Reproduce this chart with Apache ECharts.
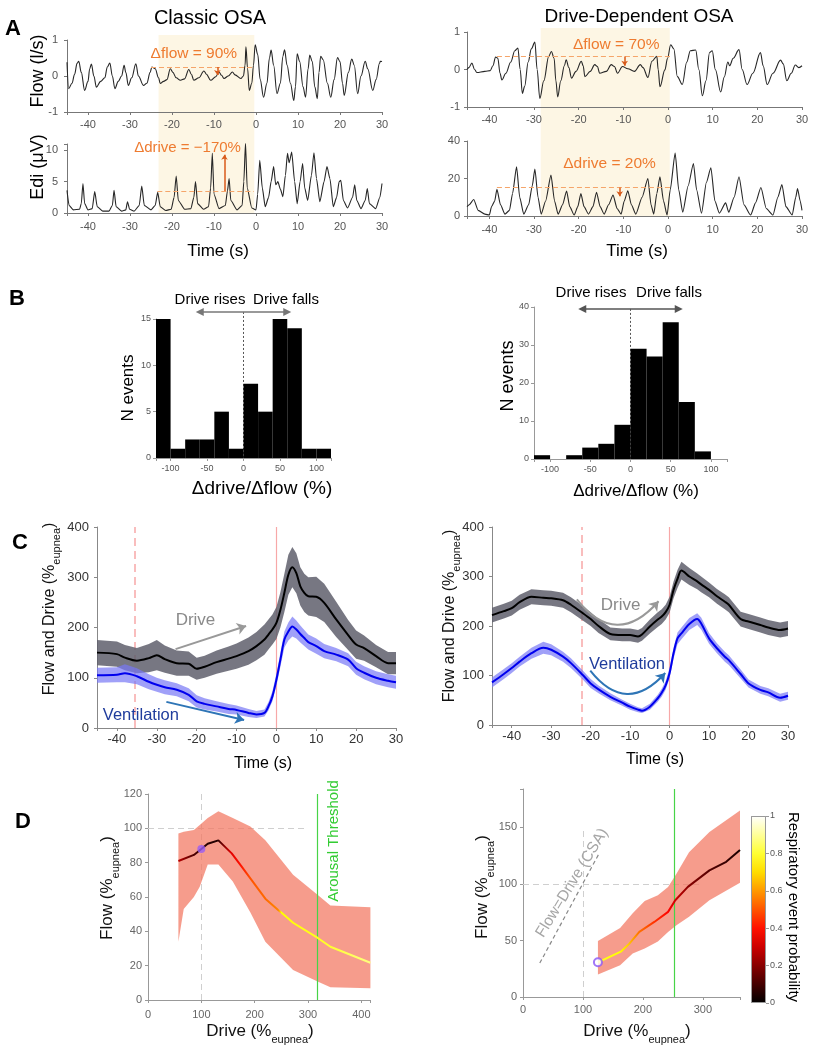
<!DOCTYPE html>
<html><head><meta charset="utf-8">
<script src="https://cdn.jsdelivr.net/npm/echarts@6/dist/echarts.min.js"></script>
<style>html,body{margin:0;padding:0;background:#fff}#c{width:817px;height:1050px}</style>
</head><body><div id="c"></div>
<script>
// ---------------- DATA ----------------
const flowClassic = [[-45,0.38],[-44.6,-0.35],[-43.8,-0.2],[-43.2,0.05],[-42.6,0.35],[-42.2,0.41],[-41.6,0.1],[-40.8,-0.4],[-40.0,-0.15],[-39.6,0.2],[-39.2,0.33],[-38.6,0.0],[-38.0,-0.31],[-37.0,-0.15],[-36.0,-0.05],[-35.4,0.25],[-34.8,0.36],[-34.2,0.0],[-33.6,-0.35],[-32.8,-0.15],[-32.0,0.0],[-31.4,0.3],[-31.0,0.1],[-30.4,-0.26],[-29.6,-0.05],[-28.6,0.34],[-28.0,0.0],[-26.8,-0.26],[-26.0,-0.2],[-25.2,0.1],[-24.8,0.25],[-24.0,0.2],[-23.2,-0.05],[-22.8,-0.21],[-22.0,-0.15],[-21.2,-0.1],[-20.4,0.2],[-19.8,0.1],[-19.0,-0.05],[-18.0,-0.12],[-17.0,-0.08],[-16.0,0.18],[-15.4,0.05],[-14.8,-0.12],[-13.6,-0.05],[-12.4,0.14],[-11.8,0.05],[-10.8,-0.12],[-9.6,-0.02],[-8.8,0.11],[-8.2,0.02],[-7.6,-0.07],[-6.6,0.0],[-5.6,0.11],[-5.0,0.03],[-3.6,-0.07],[-3.0,0.0],[-2.6,0.3],[-2.4,0.81],[-2.0,0.2],[-1.6,-0.4],[-1.0,-0.2],[-0.6,0.3],[-0.2,0.87],[0.4,0.6],[1.0,-0.1],[1.8,-0.59],[2.6,-0.2],[3.2,0.5],[3.6,0.72],[4.2,0.3],[5.0,-0.49],[5.8,-0.2],[6.4,0.55],[6.8,0.73],[7.4,0.3],[8.2,-0.2],[9.0,-0.68],[9.4,-0.3],[9.8,0.62],[10.4,0.4],[11.2,-0.3],[11.8,-0.59],[12.4,0.2],[12.8,0.58],[13.4,0.4],[14.0,-0.3],[14.6,-0.63],[15.0,0.1],[15.4,0.55],[16.0,0.45],[17.0,-0.2],[17.8,-0.59],[18.6,-0.1],[19.4,0.51],[20.0,0.4],[20.6,-0.2],[21.0,-0.54],[22.0,0.1],[22.8,0.47],[23.4,0.3],[24.2,-0.49],[25.0,0.0],[26.0,0.41],[26.6,0.2],[27.8,-0.4],[28.6,-0.1],[29.4,0.35],[29.6,0.41],[30,0.4]];
const ediClassic = [[-45,3.6],[-44.5,1.2],[-43.5,0.5],[-42,0.6],[-41.6,1.5],[-41.2,4.7],[-40.8,1.5],[-40,0.5],[-39,0.7],[-38.4,3.4],[-37.8,1],[-36.5,0.3],[-35,0.3],[-34.2,1.2],[-33.8,3.6],[-33.3,1],[-32,0.3],[-31,0.5],[-30.6,1.8],[-30.1,0.6],[-29,0.3],[-27.8,1.2],[-27.2,4.3],[-26.6,1.2],[-25,0.5],[-24,1.2],[-23.4,3.3],[-22.8,1],[-21.5,0.4],[-20.2,0.6],[-19.5,2.5],[-19,5.9],[-18.5,2],[-17,0.6],[-15.5,0.7],[-14.8,2.5],[-14.4,5.0],[-13.9,1.5],[-12.5,0.6],[-11.3,1.0],[-10.8,4],[-10.4,9.5],[-10,3],[-8.8,0.7],[-7.3,1.2],[-6.8,3.5],[-6.4,5.5],[-6,2],[-4.5,0.5],[-3.3,1.2],[-2.9,5],[-2.5,11.2],[-2.1,4],[-1,0.8],[0,0.5],[0.4,3],[0.9,8.4],[1.5,4],[2.2,1],[3.0,2.5],[3.6,5],[4.2,7.4],[4.7,4.5],[5.2,5],[5.8,3.8],[6.4,2.6],[7.0,6],[7.5,9.5],[7.9,8],[8.5,9.7],[9.2,5],[9.8,1.5],[10.5,5],[11.1,7.9],[11.6,4],[12.3,2],[13.2,6],[13.8,9.6],[14.4,5.5],[15.2,1.8],[16.2,5],[16.9,7.4],[17.6,5.5],[18.4,1.0],[19.2,2.5],[19.8,5],[20.2,5.2],[20.8,2],[21.8,0.8],[23,2.5],[23.5,4.5],[24,2],[25,0.7],[26,2],[26.5,3.9],[27,1.5],[28.5,0.7],[29.5,2.5],[30,4.7]];
const flowDD = [[-45,0.0],[-44.6,0.05],[-43.9,0.17],[-43.3,0.0],[-42.8,-0.08],[-41,-0.05],[-39.8,-0.03],[-39.2,0.1],[-38.6,0.33],[-38.1,0.3],[-37.6,-0.1],[-37.2,-0.28],[-36.3,-0.1],[-35.2,0.2],[-34.3,0.5],[-33.6,0.57],[-33.1,0.0],[-32.6,-0.64],[-32.1,-0.45],[-31.3,0.2],[-30.6,0.55],[-29.8,0.73],[-29.3,0.0],[-28.7,-0.77],[-27.8,-0.3],[-26.7,0.35],[-26.1,0.48],[-25.5,0.3],[-25.1,-0.3],[-24.7,-0.73],[-24.0,-0.3],[-23.2,0.1],[-22.8,0.26],[-22.2,0.05],[-21.6,-0.23],[-20.6,-0.05],[-19.4,0.22],[-19.0,0.1],[-18.6,-0.19],[-17.4,-0.05],[-16.4,0.13],[-15.8,0.08],[-15.3,-0.1],[-13.8,-0.05],[-12.7,0.13],[-12.0,0.08],[-11.3,-0.1],[-10.2,0.08],[-9.0,0.02],[-7.5,-0.05],[-6.2,0.13],[-5.6,0.05],[-4.5,-0.21],[-3.6,0.22],[-2.5,0.35],[-2.2,0.0],[-1.8,-0.46],[-0.7,-0.01],[-0.1,0.3],[0.6,0.66],[1.3,0.55],[2.1,-0.19],[3.2,-0.4],[4.2,0.2],[5.0,0.5],[6.2,0.52],[6.9,0.0],[7.7,-0.7],[8.5,-0.3],[9.3,0.45],[9.9,0.5],[10.6,0.0],[11.8,-0.6],[12.6,-0.2],[13.4,0.2],[13.8,0.1],[14.6,0.3],[15.9,0.53],[16.6,0.0],[17.7,-0.4],[19.0,-0.1],[20.7,0.45],[21.3,0.1],[22.2,-0.4],[23.5,-0.1],[25.2,0.25],[25.8,0.15],[26.6,-0.3],[27.6,-0.1],[28.5,0.12],[29.3,0.05],[30,0.1]];
const ediDD = [[-45,5],[-44.5,6],[-43.5,8.8],[-42.5,3],[-41,1],[-40,0.5],[-39.5,5],[-38.8,8],[-38.3,14.2],[-37.5,6],[-36.5,1],[-35.5,3],[-34.8,12],[-33.9,26.2],[-33.2,10],[-32.3,1],[-31.2,6],[-30.4,16],[-29.8,25],[-29.1,10],[-28.4,1],[-27.4,8],[-26.2,21.8],[-25.4,8],[-24.6,1],[-23.6,6],[-22.7,13.3],[-22,5],[-21,0.5],[-20.2,5],[-19.5,12],[-18.8,5],[-17.8,1],[-16.8,5],[-16,12.7],[-15.2,5],[-14.3,1],[-13.3,6],[-12.3,11.2],[-11.4,4],[-10.5,1],[-9.8,8],[-9,13.5],[-8.2,6],[-7.2,1],[-5.8,10],[-4.5,20],[-3.8,6],[-3.2,1],[-2.5,12],[-1.8,20.9],[-1.0,8],[-0.2,0.5],[0.5,14],[1.6,33.6],[2.4,14],[3.3,2],[4.5,16],[5.7,28],[6.4,14],[7.5,1.5],[8.6,18],[9.6,25.7],[10.5,8],[11.5,1.5],[12.9,7],[13.6,2],[14.8,10],[15.9,20.9],[17,6],[18.5,0.5],[19.6,7],[20.8,15.2],[22,4],[23.5,0.5],[24.6,10],[25.5,16.8],[26.4,5],[27.8,0.5],[28.6,10],[29,14.7],[29.6,8],[30,3]];

const histEdges = [-120,-100,-80,-60,-40,-20,0,20,40,60,80,100,120];
const histClassic = [15,1,2,2,5,1,8,5,15,14,1,1];
const histDD = [1,0,1,3,4,9,29,27,36,15,2,0];

const cTimeL  = [-45,-40,-38,-35,-32,-30,-28,-25,-22,-20,-18,-15,-12,-10,-7,-5,-3,-2,-1,0,1,2,3,4,5,6,7,8,10,12,15,18,20,22,25,28,30];
const cDriveL = [150,147,140,134,139,145,137,129,128,118,122,131,138,143,153,163,176,186,196,209,235,269,305,320,308,282,269,262,261,249,216,185,166,159,143,129,129];
const cDriveSeL = [25,25,25,25,28,30,27,25,24,22,22,23,24,25,27,28,30,30,30,32,35,38,40,40,40,38,38,38,40,38,35,30,28,25,22,22,22];
const cVentL  = [105,106,109,103,92,86,81,76,66,53,48,43,38,36,30,27,30,43,63,96,136,176,192,202,196,187,179,171,163,153,146,136,119,110,100,94,91];
const cVentSeL = [15,15,18,16,15,14,14,13,13,12,11,10,10,9,8,7,7,8,10,12,14,16,18,20,18,17,16,15,15,14,13,13,13,13,13,13,13];

const cTimeR  = [-45,-42,-40,-38,-35,-32,-30,-27,-25,-22,-20,-18,-15,-12,-10,-8,-7,-5,-3,-2,-1,0,1,2,3,5,7,8,10,12,14,15,18,20,23,25,28,30];
const cDriveR = [222,230,236,248,259,257,256,252,243,226,214,200,184,182,182,179,183,199,213,219,228,243,273,295,312,300,290,284,273,260,249,243,214,209,202,197,192,195];
const cDriveSeR = [15,15,15,15,15,15,15,15,15,15,14,14,13,13,13,13,13,14,15,15,15,16,17,18,18,17,16,16,15,15,15,15,15,15,15,15,15,15];
const cVentR  = [86,103,115,128,145,156,152,138,125,101,84,72,57,45,37,31,29,37,54,65,80,105,145,175,185,204,214,205,175,155,138,131,103,84,71,66,55,59];
const cVentSeR = [10,10,10,10,11,12,11,10,10,9,9,8,7,6,6,5,5,6,7,8,9,10,11,12,12,12,12,12,11,10,10,10,9,8,8,8,8,8];

const dDriveL = [57,86,100,112,132,157,175,194,220,244,250,272,319,342,417];
const dFlowL  = [81,84.5,88,91,93,85.4,78,70,59,52.4,51,45,36,31,21.7];
const dProbL  = [0.3,0.13,0.08,0.06,0.05,0.33,0.4,0.5,0.53,0.57,0.75,0.76,0.78,0.8,0.88];
const dBandXL = [57,67,86,97,112,132,159,192,220,272,319,342,417];
const dBandHiL = [97,98,99,102,106,110,106,101,93,73,61,55,54];
const dBandLoL = [34,53,60,66,79,79,69,51,34,17.5,10.7,7.4,6.8];

const dDriveR = [125,164,177,194,219,242,254,275,311,339,362];
const dFlowR  = [30.7,40.4,47,57.6,66.4,75.3,85.6,97.4,112,119.6,130];
const dProbR  = [0.78,0.75,0.68,0.55,0.45,0.38,0.3,0.2,0.12,0.07,0.03];
const dBandXR = [125,162,183,203,225,242,256,277,311,362];
const dBandHiR = [49.6,61,74,85,90,97.4,109,128,146,165];
const dBandLoR = [20,28,38.4,43,49,57.6,63.5,71,85.6,101];

// ---------------- HELPERS ----------------
const FONT = "'Liberation Sans', Arial, Helvetica, sans-serif";
function hot(p){
  const r=Math.min(1,Math.max(0,p/0.375)), g=Math.min(1,Math.max(0,(p-0.375)/0.375)), b=Math.min(1,Math.max(0,(p-0.75)/0.25));
  return 'rgb('+Math.round(r*255)+','+Math.round(g*255)+','+Math.round(b*255)+')';
}
function probGradient(xs, ps){
  const x0=Math.min.apply(null,xs), x1=Math.max.apply(null,xs);
  return new echarts.graphic.LinearGradient(0,0,1,0, xs.map((x,i)=>({offset:(x-x0)/(x1-x0), color:hot(ps[i])})));
}
function ax(grid, min, max, o){
  o = o || {};
  const step = o.step;
  return {
    type:'value', gridIndex:grid, min:min, max:max, interval:o.interval, splitNumber:o.splitNumber,
    show:o.show!==false, position:o.position,
    axisLine:{show:true, onZero:false, lineStyle:{color:o.lc||'#777', width:1}},
    axisTick:{show:o.tick!==false, length:3, lineStyle:{color:o.lc||'#777'}},
    splitLine:{show:false},
    axisLabel:{fontSize:o.fs||11, color:o.color||'#555', fontFamily:FONT, margin:o.margin||6,
      formatter:function(v){ if(step && Math.abs(v/step-Math.round(v/step))>1e-6) return ''; return o.fmt?o.fmt(v):String(v); }}
  };
}
function trace(g, data, sm){ return {type:'line', xAxisIndex:g, yAxisIndex:g, data:data, showSymbol:false, symbol:'none', silent:true, z:3,
  smooth:sm, smoothMonotone:'x', lineStyle:{color:'#262626', width:1.1}}; }
function shade(g, x0, x1){ return {type:'custom', xAxisIndex:g, yAxisIndex:g, z:-10, silent:true, data:[[x0,x1,0]], encode:{x:[0,1], y:2},
  renderItem:function(p,api){ const a=api.coord([api.value(0),1]), b=api.coord([api.value(1),0]);
    return {type:'rect', shape:{x:a[0],y:a[1],width:b[0]-a[0],height:b[1]-a[1]}, style:{fill:'#fdf6e4'}}; }}; }
function seg(g, coords, style, symbol, size, z){ return {type:'lines', coordinateSystem:'cartesian2d', xAxisIndex:g, yAxisIndex:g, clip:false, silent:true, z:z||6,
  symbol:symbol||['none','none'], symbolSize:size||8, lineStyle:Object.assign({opacity:1},style), data:coords.map(c=>({coords:c}))}; }
function hist(g, edges, counts){ return {type:'custom', xAxisIndex:g, yAxisIndex:g, z:3, silent:true,
  data:counts.map((c,i)=>[edges[i], edges[i+1], c]), encode:{x:[0,1], y:2},
  renderItem:function(p,api){ const a=api.coord([api.value(0),api.value(2)]), b=api.coord([api.value(1),0]);
    return {type:'rect', shape:{x:a[0],y:a[1],width:b[0]-a[0],height:b[1]-a[1]}, style:{fill:'#000'}}; }}; }
function band(g, xs, lo, hi, fill, z){ return {type:'custom', xAxisIndex:g, yAxisIndex:g, z:z||2, silent:true, data:[[xs[0],lo[0]]],
  renderItem:function(p,api){ const pts=[]; for(let i=0;i<xs.length;i++) pts.push(api.coord([xs[i],hi[i]]));
    for(let i=xs.length-1;i>=0;i--) pts.push(api.coord([xs[i],lo[i]]));
    return {type:'polygon', shape:{points:pts}, style:{fill:fill}}; }}; }
function meanLine(g, xs, ys, color, width, smooth){ return {type:'line', xAxisIndex:g, yAxisIndex:g, data:xs.map((x,i)=>[x,ys[i]]), showSymbol:false, symbol:'none',
  smooth:smooth||0, silent:true, z:4, lineStyle:{color:color, width:width}}; }
const add=(a,b)=>a.map((v,i)=>v+b[i]), sub=(a,b)=>a.map((v,i)=>v-b[i]);

// ---------------- LAYOUT ----------------
const grids = [
  {left:67, top:40, width:315, height:72},     //0 A-L flow
  {left:67, top:144, width:315, height:69},    //1 A-L edi
  {left:467, top:32, width:335, height:75},    //2 A-R flow
  {left:467, top:141, width:335, height:75},   //3 A-R edi
  {left:67, top:35, width:315, height:178},    //4 shade L
  {left:467, top:28, width:335, height:188},   //5 shade R
  {left:156, top:319, width:175, height:139},  //6 B-L
  {left:534, top:307, width:193, height:152},  //7 B-R
  {left:97, top:527, width:299, height:201},   //8 C-L
  {left:492, top:527, width:296, height:198},  //9 C-R
  {left:148, top:794, width:222.4, height:206},//10 D-L
  {left:523, top:789, width:217, height:208},  //11 D-R
  {left:751, top:816, width:15, height:187}    //12 colorbar
];
const xAxes = [
  ax(0,-45,30,{splitNumber:8, step:10, margin:7}),
  ax(1,-45,30,{splitNumber:8, step:10, margin:8}),
  ax(2,-45,30,{splitNumber:8, step:10, margin:7}),
  ax(3,-45,30,{splitNumber:8, step:10, margin:8}),
  ax(4,-45,30,{show:false}),
  ax(5,-45,30,{show:false}),
  ax(6,-120,120,{step:50, fs:9, lc:'#999', margin:6}),
  ax(7,-120,120,{step:50, fs:9, lc:'#999', margin:6}),
  ax(8,-45,30,{splitNumber:8, step:10, fs:13, color:'#333', lc:'#888', margin:5}),
  ax(9,-45,30,{splitNumber:8, step:10, fs:13, color:'#333', lc:'#888', margin:5}),
  ax(10,0,417,{step:100, fs:11, color:'#666', lc:'#999', margin:9}),
  ax(11,0,362,{step:100, fs:11, color:'#666', lc:'#999', margin:7}),
  {type:'category', gridIndex:12, data:['p'], show:false}
];
const yAxes = [
  ax(0,-1,1,{interval:1, margin:9}),
  ax(1,0,11,{interval:5, step:5, margin:9}),
  ax(2,-1,1,{interval:1, margin:7}),
  ax(3,0,40,{interval:20, margin:7}),
  ax(4,0,1,{show:false}),
  ax(5,0,1,{show:false}),
  ax(6,0,15,{interval:5, fs:9, lc:'#999', margin:5}),
  ax(7,0,40,{interval:10, fs:9, lc:'#999', margin:5}),
  ax(8,0,400,{interval:100, fs:13, color:'#333', lc:'#888', margin:8}),
  ax(9,0,400,{interval:100, fs:13, color:'#333', lc:'#888', margin:8}),
  ax(10,0,120,{interval:20, fs:11, color:'#666', lc:'#999', margin:6}),
  ax(11,0,184,{interval:50, step:50, fs:11, color:'#666', lc:'#999', margin:6}),
  Object.assign(ax(12,0,1,{interval:0.2, fs:9, color:'#555', lc:'#999', margin:4, fmt:v=>{const r=Math.round(v*10)/10; return (r===0||r===1)?String(r):r.toFixed(1);}}), {position:'right', axisLine:{show:false}})
];

const ORANGE='#ee7b30', DASHOR='#f5a56a', ARROWOR='#d85a1a';
const series = [
  shade(4,-23.2,-0.4), shade(5,-28.5,0.4),
  trace(0, flowClassic, 0.35), trace(1, ediClassic, 0.2), trace(2, flowDD, 0.35), trace(3, ediDD, 0.2),
  seg(0, [[[-25,0.25],[-0.6,0.25]]], {color:DASHOR, width:1.2, type:[5,3]}),
  seg(0, [[[-9.2,0.25],[-9.2,0.03]]], {color:ARROWOR, width:1.5}, ['none','arrow'], 5),
  seg(1, [[[-23.5,3.5],[-0.5,3.5]]], {color:DASHOR, width:1.2, type:[5,3]}),
  seg(1, [[[-7.5,3.5],[-7.5,9.3]]], {color:ARROWOR, width:1.5}, ['none','arrow'], 5),
  seg(2, [[[-38.3,0.35],[0.5,0.35]]], {color:DASHOR, width:1.2, type:[5,3]}),
  seg(2, [[[-9.7,0.35],[-9.7,0.1]]], {color:ARROWOR, width:1.5}, ['none','arrow'], 5),
  seg(3, [[[-38.3,15.2],[0.5,15.2]]], {color:DASHOR, width:1.2, type:[5,3]}),
  seg(3, [[[-10.8,15.2],[-10.8,10.5]]], {color:ARROWOR, width:1.5}, ['none','arrow'], 5),
  hist(6, histEdges, histClassic), hist(7, histEdges, histDD),
  seg(6, [[[0,15.76],[0,0]]], {color:'#555', width:1, type:[2,2]}, null, 8, 1),
  seg(7, [[[0,39.5],[0,0]]], {color:'#555', width:1, type:[2,2]}, null, 8, 1),
  seg(6, [[[-60,15.76],[60,15.76]]], {color:'#777', width:1.5}, ['triangle','triangle'], 8),
  seg(7, [[[-60,39.5],[60,39.5]]], {color:'#555', width:1.5}, ['triangle','triangle'], 8),
  // C left
  seg(8, [[[-35.5,0],[-35.5,400]]], {color:'#f7a8a8', width:1.5, type:[8,5]}, null, 8, 1),
  seg(8, [[[0,0],[0,400]]], {color:'#f7a8a8', width:1.2}, null, 8, 1),
  band(8, cTimeL, sub(cDriveL,cDriveSeL), add(cDriveL,cDriveSeL), 'rgba(95,95,108,0.85)', 2),
  band(8, cTimeL, sub(cVentL,cVentSeL), add(cVentL,cVentSeL), 'rgba(120,120,245,0.7)', 2),
  meanLine(8, cTimeL, cDriveL, '#000', 2, 0.3),
  meanLine(8, cTimeL, cVentL, '#0000ee', 2, 0.3),
  seg(8, [[[-25.3,157],[-7.6,203]]], {color:'#999', width:2}, ['none','arrow'], 9),
  seg(8, [[[-27.6,52],[-8.1,16]]], {color:'#2e75b6', width:2}, ['none','arrow'], 9),
  // C right
  seg(9, [[[-22.3,0],[-22.3,400]]], {color:'#f7a8a8', width:1.5, type:[8,5]}, null, 8, 1),
  seg(9, [[[0,0],[0,400]]], {color:'#f7a8a8', width:1.2}, null, 8, 1),
  band(9, cTimeR, sub(cDriveR,cDriveSeR), add(cDriveR,cDriveSeR), 'rgba(95,95,108,0.85)', 2),
  band(9, cTimeR, sub(cVentR,cVentSeR), add(cVentR,cVentSeR), 'rgba(120,120,245,0.7)', 2),
  meanLine(9, cTimeR, cDriveR, '#000', 2, 0.3),
  meanLine(9, cTimeR, cVentR, '#0000ee', 2, 0.3),
  seg(9, [[[-23.5,254],[-2.8,250]]], {color:'#999', width:2, curveness:-0.6}, ['none','arrow'], 9),
  seg(9, [[[-20.1,110],[-1.1,105]]], {color:'#2e75b6', width:2, curveness:-0.59}, ['none','arrow'], 9),
  // D left
  seg(10, [[[100,0],[100,120]],[[0,100],[300,100]]], {color:'#cfcfcf', width:1, type:[6,4]}, null, 8, 1),
  band(10, dBandXL, dBandLoL, dBandHiL, 'rgba(242,118,95,0.72)', 2),
  seg(10, [[[318,0],[318,120]]], {color:'#47d447', width:1.2}, null, 8, 3),
  {type:'line', xAxisIndex:10, yAxisIndex:10, data:dDriveL.map((x,i)=>[x,dFlowL[i]]), showSymbol:false, symbol:'none', silent:true, z:4, lineStyle:{width:2, color:probGradient(dDriveL,dProbL)}},
  {type:'scatter', xAxisIndex:10, yAxisIndex:10, data:[[dDriveL[2],dFlowL[2]]], symbolSize:8, z:5, silent:true, itemStyle:{color:'#9a5cf5'}},
  // D right
  seg(11, [[[100,0],[100,150]],[[0,100],[300,100]]], {color:'#cfcfcf', width:1, type:[6,4]}, null, 8, 1),
  seg(11, [[[28,30],[128,128]]], {color:'#888', width:1.2, type:[4,3]}, null, 8, 1),
  band(11, dBandXR, dBandLoR, dBandHiR, 'rgba(242,118,95,0.72)', 2),
  seg(11, [[[253,0],[253,184]]], {color:'#47d447', width:1.2}, null, 8, 3),
  {type:'line', xAxisIndex:11, yAxisIndex:11, data:dDriveR.map((x,i)=>[x,dFlowR[i]]), showSymbol:false, symbol:'none', silent:true, z:4, lineStyle:{width:2, color:probGradient(dDriveR,dProbR)}},
  {type:'scatter', xAxisIndex:11, yAxisIndex:11, data:[[dDriveR[0],dFlowR[0]]], symbolSize:8, z:5, silent:true, itemStyle:{color:'#fff', borderColor:'#8b55f5', borderWidth:2}},
  // colorbar
  {type:'bar', xAxisIndex:12, yAxisIndex:12, data:[1], barWidth:'100%', silent:true,
   itemStyle:{borderColor:'#999', borderWidth:1, color:new echarts.graphic.LinearGradient(0,0,0,1,[0,0.1,0.2,0.3,0.4,0.5,0.6,0.7,0.8,0.9,1].map(o=>({offset:o, color:hot(1-o)})))}}
];

const chart = echarts.init(document.getElementById('c'));
chart.setOption({animation:false, backgroundColor:'#fff', grid:grids, xAxis:xAxes, yAxis:yAxes, series:series});

// ---------------- TEXT ----------------
const P=(g,x,y)=>chart.convertToPixel({gridIndex:g},[x,y]);
function T(x,y,text,size,color,o){ o=o||{}; return {type:'text', x:x, y:y, rotation:o.rot||0, z:100, silent:true,
  style:{text:text, font:(o.bold?'bold ':'')+size+'px '+FONT, fill:color, align:'center', verticalAlign:'middle'}}; }
function TP(g,x,y,text,size,color,o){ const p=P(g,x,y); return T(p[0],p[1],text,size,color,o); }
function SUB(x,y,main,subtxt,size,rot){ return {type:'text', x:x, y:y, rotation:rot||0, z:100, silent:true,
  style:{text:'{a|'+main+'}{b|'+subtxt+'}{a|)}', fill:'#111', font:size+'px '+FONT, align:'center', verticalAlign:'middle',
   rich:{a:{fontSize:size, fontFamily:FONT, fill:'#111', verticalAlign:'top', lineHeight:Math.round(size*1.25)},
         b:{fontSize:Math.round(size*0.66), fontFamily:FONT, fill:'#111', verticalAlign:'top', padding:[Math.round(size*0.62),0,0,0]}}}}; }
const R90=Math.PI/2;
const graphics = [
  T(13,29,'A',22,'#000',{bold:true}), T(17,299,'B',22,'#000',{bold:true}), T(20,543,'C',22,'#000',{bold:true}), T(23,822,'D',22,'#000',{bold:true}),
  T(210,18,'Classic OSA',20,'#000'), T(639,17,'Drive-Dependent OSA',19,'#000'),
  T(38,71,'Flow (l/s)',18,'#000',{rot:R90}), T(38,167,'Edi (μV)',18,'#000',{rot:R90}),
  T(218,251,'Time (s)',17,'#000'), T(637,251,'Time (s)',17,'#000'),
  TP(0,-14.8,0.62,'Δflow = 90%',15.5,ORANGE), TP(1,-16.3,10.4,'Δdrive = −170%',15,ORANGE),
  TP(2,-11.6,0.66,'Δflow = 70%',15.5,ORANGE), TP(3,-13.1,28,'Δdrive = 20%',15.5,ORANGE),
  T(210,300,'Drive rises',15,'#000'), T(286,300,'Drive falls',15,'#000'),
  T(591,293,'Drive rises',15,'#000'), T(669,293,'Drive falls',15,'#000'),
  T(128,388,'N events',17,'#000',{rot:R90}), T(508,376,'N events',18,'#000',{rot:R90}),
  T(262,489,'Δdrive/Δflow (%)',19,'#000'), T(636,491,'Δdrive/Δflow (%)',17,'#000'),
  SUB(52,609,'Flow and Drive (%','eupnea',16,R90), SUB(452,616,'Flow and Drive (%','eupnea',16,R90),
  T(263,764,'Time (s)',16,'#000'), T(655,760,'Time (s)',16,'#000'),
  TP(8,-20.3,215,'Drive',17,'#8a8a8a'), TP(8,-34,24.5,'Ventilation',16.5,'#1f3c9c'),
  TP(9,-12.4,241,'Drive',17,'#8a8a8a'), TP(9,-10.8,123,'Ventilation',16.5,'#1f3c9c'),
  SUB(110,888,'Flow (%','eupnea',17,R90), SUB(260,1034,'Drive (%','eupnea',17,0),
  SUB(485,887,'Flow (%','eupnea',17,R90), SUB(637,1034,'Drive (%','eupnea',17,0),
  T(334,841,'Arousal Threshold',15,'#33cc33',{rot:R90}),
  T(572,883,'Flow=Drive (CSA)',15.5,'#a6a6a6',{rot:58.6*Math.PI/180}),
  T(793,907,'Respiratory event probability',15,'#000',{rot:-R90})
];
chart.setOption({graphic:graphics});
</script></body></html>
